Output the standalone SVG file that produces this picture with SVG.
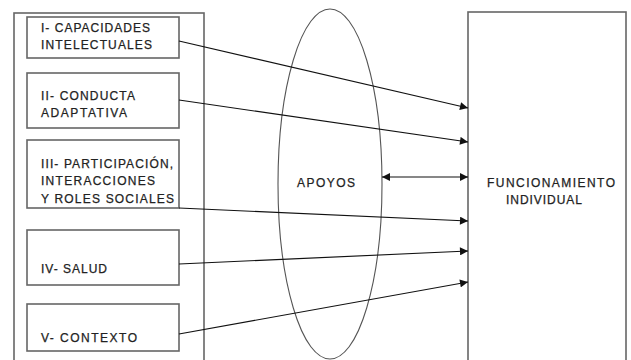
<svg xmlns="http://www.w3.org/2000/svg" width="631" height="360" viewBox="0 0 631 360">
<defs>
<style>
.box{fill:#fff;stroke:#666;stroke-width:1.6}
.t{font-family:"Liberation Sans",Arial,sans-serif;font-size:12px;fill:#222;stroke:#222;stroke-width:0.25}
.c{stroke:#111;stroke-width:1.1;fill:none}
</style>
<marker id="ah" viewBox="0 0 10 10" refX="10" refY="5" markerWidth="9" markerHeight="8" markerUnits="userSpaceOnUse" orient="auto-start-reverse">
<path d="M0,0L10,5L0,10z" fill="#111"/>
</marker>
</defs>
<rect width="631" height="360" fill="#fff"/>
<g id="dimensiones">
<rect class="box" x="14" y="13" width="190" height="352"/>
</g>
<g id="n1"><rect class="box" x="27" y="17" width="152" height="41"/>
<text class="t" x="41" y="32" textLength="109" lengthAdjust="spacing">I- CAPACIDADES</text>
<text class="t" x="41" y="49" textLength="111" lengthAdjust="spacing">INTELECTUALES</text></g>
<g id="n2"><rect class="box" x="27" y="73" width="152" height="55"/>
<text class="t" x="41" y="100" textLength="94" lengthAdjust="spacing">II- CONDUCTA</text>
<text class="t" x="41" y="117" textLength="86" lengthAdjust="spacing">ADAPTATIVA</text></g>
<g id="n3"><rect class="box" x="27" y="140" width="152" height="68"/>
<text class="t" x="41" y="168" textLength="132" lengthAdjust="spacing">III- PARTICIPACIÓN,</text>
<text class="t" x="41" y="185" textLength="114" lengthAdjust="spacing">INTERACCIONES</text>
<text class="t" x="41" y="203" textLength="133" lengthAdjust="spacing">Y ROLES SOCIALES</text></g>
<g id="n4"><rect class="box" x="27" y="230" width="152" height="55"/>
<text class="t" x="41" y="273" textLength="66" lengthAdjust="spacing">IV- SALUD</text></g>
<g id="n5"><rect class="box" x="27" y="304" width="152" height="47"/>
<text class="t" x="41" y="342" textLength="96" lengthAdjust="spacing">V- CONTEXTO</text></g>
<g id="apoyos"><ellipse cx="330" cy="184" rx="52" ry="175" fill="none" stroke="#555" stroke-width="1.1"/>
<text class="t" x="297" y="187" textLength="58" lengthAdjust="spacing">APOYOS</text></g>
<g id="funcionamiento"><rect class="box" x="468" y="12" width="158" height="353"/>
<text class="t" x="487" y="187" textLength="128" lengthAdjust="spacing">FUNCIONAMIENTO</text>
<text class="t" x="506" y="204" textLength="76" lengthAdjust="spacing">INDIVIDUAL</text></g>
<g id="connectors">
<line class="c" x1="179" y1="41" x2="468" y2="108" marker-end="url(#ah)"/>
<line class="c" x1="179" y1="100" x2="468" y2="142" marker-end="url(#ah)"/>
<line class="c" x1="179" y1="208" x2="468" y2="221" marker-end="url(#ah)"/>
<line class="c" x1="179" y1="264" x2="468" y2="251" marker-end="url(#ah)"/>
<line class="c" x1="179" y1="334" x2="468" y2="282" marker-end="url(#ah)"/>
<line class="c" x1="382" y1="177" x2="468" y2="177" marker-start="url(#ah)" marker-end="url(#ah)"/>
</g>
</svg>
